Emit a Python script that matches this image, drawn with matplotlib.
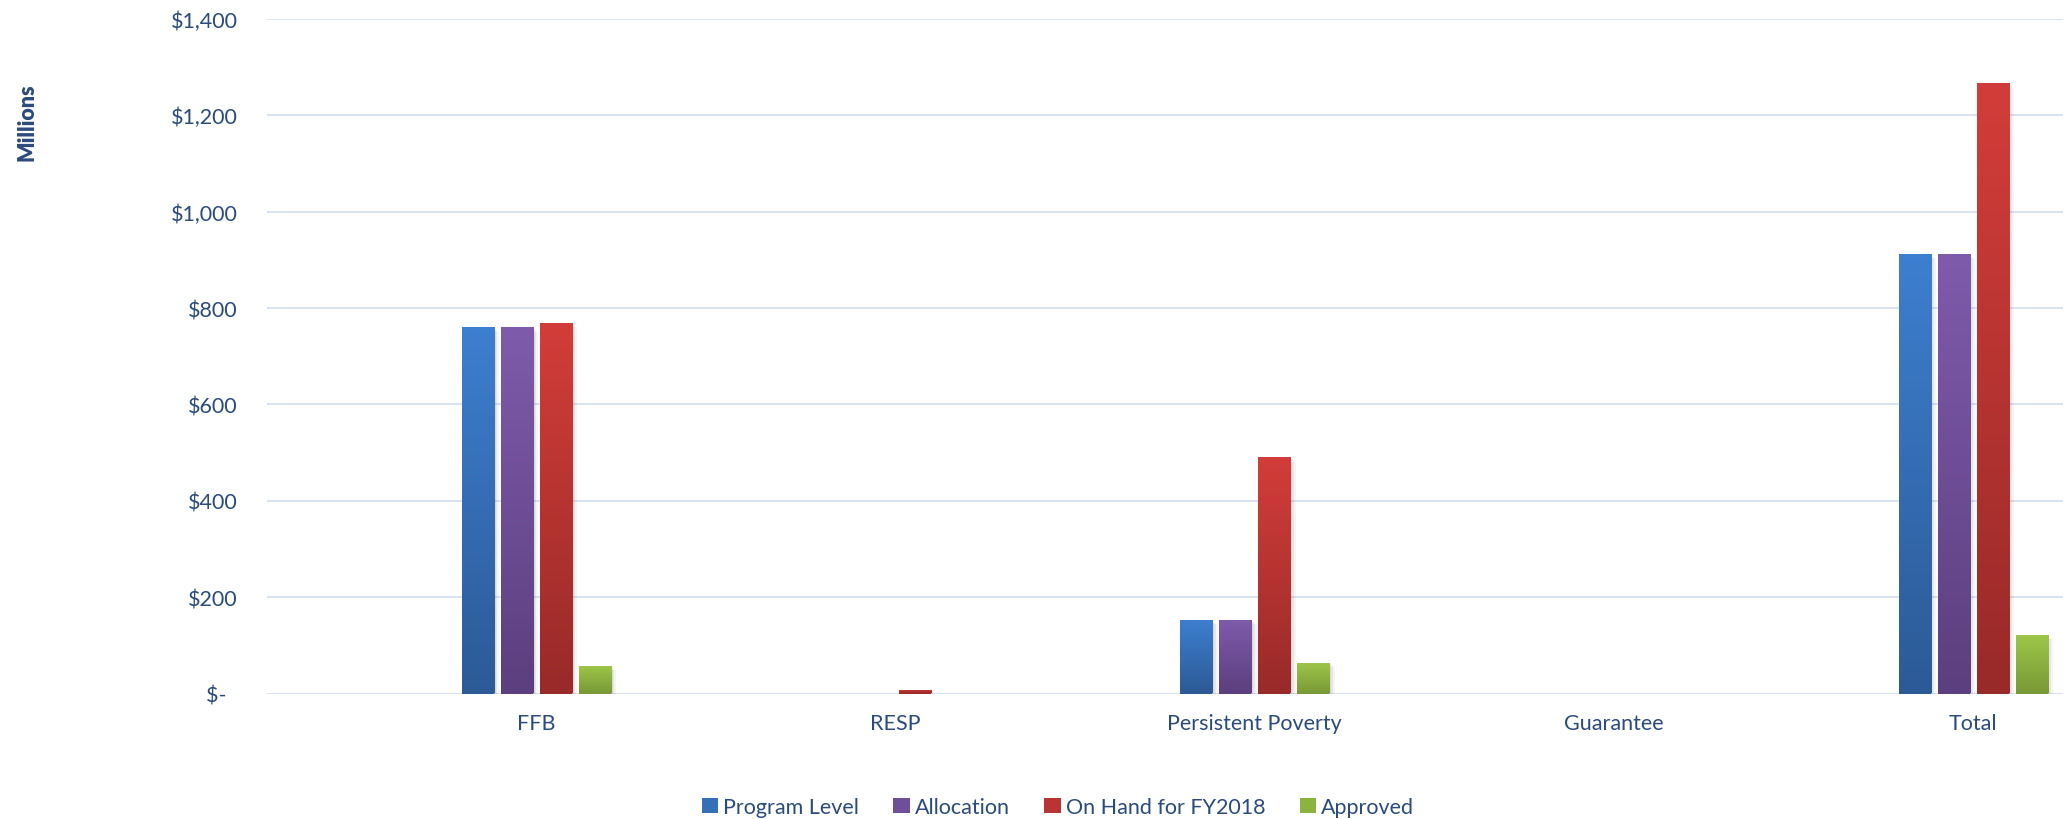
import numpy as np
import matplotlib
matplotlib.use("Agg")
import matplotlib.pyplot as plt
from matplotlib import patheffects as pe
from matplotlib.colors import LinearSegmentedColormap
from matplotlib.patches import Patch

categories = ["FFB", "RESP", "Persistent Poverty", "Guarantee", "Total"]
series_names = ["Program Level", "Allocation", "On Hand for FY2018", "Approved"]
program_level = [760, 0, 152, 0, 912]
allocation = [760, 0, 152, 0, 912]
on_hand_fy2018 = [770, 7, 490, 0, 1267]
approved = [57, 0, 64, 0, 121]
y_ticks = [0, 200, 400, 600, 800, 1000, 1200, 1400]
y_tick_labels = ["$-  ", "$200", "$400", "$600", "$800", "$1,000", "$1,200", "$1,400"]

series_values = [program_level, allocation, on_hand_fy2018, approved]
# (top colour, bottom colour) for each series gradient
gradients = [("#3D7FD0", "#2C5A96"),
             ("#7F5BAC", "#5C3F7E"),
             ("#D33D39", "#982A29"),
             ("#9EC749", "#799936")]

TEXT = "#2A4B7C"
GRID = "#D9E3F1"
FONT = "Lato"

plt.rcParams["font.family"] = [FONT, "DejaVu Sans"]

fig = plt.figure(figsize=(20.66, 8.2), dpi=100)
ax = fig.add_axes([267 / 2066, 1 - 694.5 / 820, (2063 - 267) / 2066, (694.5 - 20) / 820])

x = np.arange(len(categories))
step = 39 / 359
width = 32 / 359
offsets = (np.arange(4) - 1.5) * step

for s, (vals, (ctop, cbot)) in enumerate(zip(series_values, gradients)):
    cmap = LinearSegmentedColormap.from_list(f"g{s}", [cbot, ctop])
    bars = ax.bar(x + offsets[s], vals, width=width, color=cbot, zorder=3,
                  linewidth=0)
    for b in bars:
        h = b.get_height()
        if h <= 0:
            continue
        b.set_path_effects([
            pe.SimplePatchShadow(offset=(4, -3), shadow_rgbFace="#000000", alpha=0.04),
            pe.SimplePatchShadow(offset=(2.5, -2), shadow_rgbFace="#000000", alpha=0.06),
            pe.SimplePatchShadow(offset=(1.2, -1), shadow_rgbFace="#000000", alpha=0.06),
            pe.Normal()])
        grad = np.linspace(0, 1, 256).reshape(-1, 1)
        im = ax.imshow(grad, cmap=cmap, origin="lower", aspect="auto",
                       extent=[b.get_x(), b.get_x() + b.get_width(), 0, h],
                       zorder=4, interpolation="bicubic")
        im.set_clip_path(b)

ax.set_xlim(-0.75, 4.25)
ax.set_ylim(0, 1400)
ax.set_yticks(y_ticks)
ax.set_yticklabels(y_tick_labels)
ax.set_xticks(x)
ax.set_xticklabels(categories)

ax.grid(axis="y", color=GRID, linewidth=1.4, zorder=0)
ax.set_axisbelow(True)
for sp in ax.spines.values():
    sp.set_visible(False)
ax.tick_params(axis="y", length=0, pad=21, labelsize=15.5, labelcolor=TEXT)
ax.tick_params(axis="x", length=0, pad=14, labelsize=15.5, labelcolor=TEXT)

fig.text(27 / 2066, 1 - 122 / 820, "Millions", rotation=90, ha="center", va="center",
         fontsize=15.5, fontweight="heavy", color=TEXT)

handles = [Patch(facecolor=c, edgecolor="none") for c in
           ["#3570B6", "#6E4F98", "#B93433", "#8CB240"]]
leg = fig.legend(handles, series_names, loc="center", ncol=4,
                 bbox_to_anchor=(1058 / 2066, 1 - 808 / 820), frameon=False,
                 fontsize=15.5, handlelength=0.75, handleheight=0.75,
                 handletextpad=0.25, columnspacing=1.6, borderaxespad=0)
for t in leg.get_texts():
    t.set_color(TEXT)

fig.savefig("out.png", dpi=100)
